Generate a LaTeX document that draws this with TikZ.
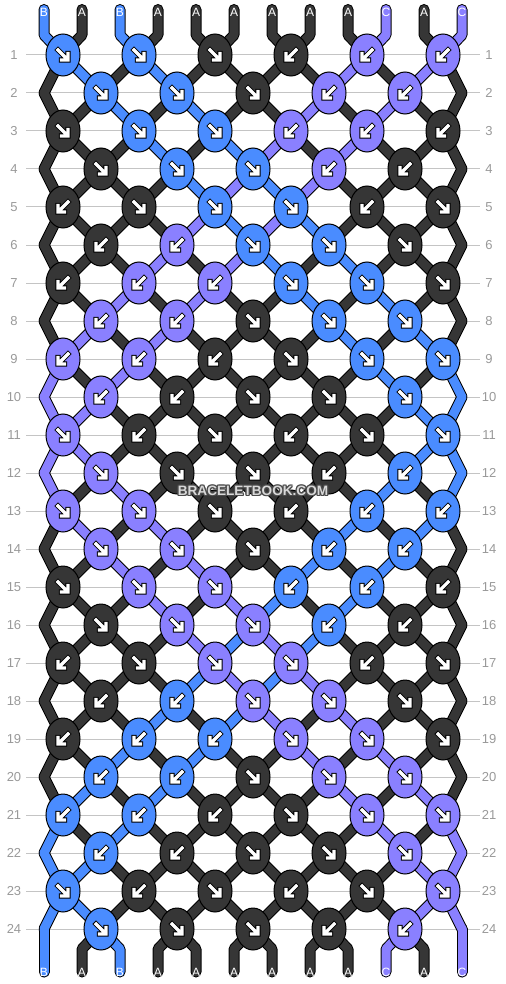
\documentclass[tikz,border=0pt]{standalone}
\usepackage{fontspec}
\setmainfont{Liberation Sans}
\usetikzlibrary{shapes.geometric}
\definecolor{colA}{HTML}{363636}
\definecolor{colB}{HTML}{4A8CFF}
\definecolor{colC}{HTML}{8A80FF}
\definecolor{rowgrey}{HTML}{C4C4C4}
\definecolor{numgrey}{HTML}{999999}
\definecolor{wmlight}{HTML}{D8D8D8}
\definecolor{wmdark}{HTML}{4A4A4A}

\begin{document}
\begin{tikzpicture}[
    x=0.5pt, y=-0.5pt,
    knot/.style = {ellipse, draw=black, line width=0.5pt,
                minimum width=17pt, minimum height=21pt, inner sep=0pt},
    thread out/.style = {draw=black, line width=5.5pt, line cap=round, line join=round},
    thread in/.style = {draw=#1, line width=4.5pt, line cap=round, line join=round},
    arrow out/.style = {draw=black, line width=2.6pt, line cap=rect},
    arrow in/.style = {draw=white, line width=1.6pt, line cap=rect},
    dir r/.style = {xscale=1},
    dir l/.style = {xscale=-1},
    rowline/.style = {draw=rowgrey, line width=0.5pt},
    rownum/.style = {text=numgrey, font=\fontsize{6.5}{7}\selectfont, inner sep=0pt},
    strname/.style = {text=white, font=\fontsize{6}{7}\selectfont, inner sep=0pt},
    wmark/.style = {font=\fontsize{6.8}{7}\bfseries\selectfont, inner sep=0pt}
                    ]
    \useasboundingbox (0,0) rectangle (506,984);
    % thread colours after each row (row 0 = top)
    \def\threadstates{
        0/{B,A,B,A,A,A,A,A,A,C,A,C},  1/{A,B,A,B,A,A,A,A,C,A,C,A},
        2/{A,A,B,A,B,A,A,C,A,C,A,A},  3/{A,A,A,B,A,B,C,A,C,A,A,A},
        4/{A,A,A,A,B,C,B,C,A,A,A,A},  5/{A,A,A,A,C,B,C,B,A,A,A,A},
        6/{A,A,A,C,A,C,B,A,B,A,A,A},  7/{A,A,C,A,C,A,A,B,A,B,A,A},
        8/{A,C,A,C,A,A,A,A,B,A,B,A},  9/{C,A,C,A,A,A,A,A,A,B,A,B},
        10/{C,C,A,A,A,A,A,A,A,A,B,B}, 11/{C,C,A,A,A,A,A,A,A,A,B,B},
        12/{C,A,C,A,A,A,A,A,A,B,A,B}, 13/{A,C,A,C,A,A,A,A,B,A,B,A},
        14/{A,A,C,A,C,A,A,B,A,B,A,A}, 15/{A,A,A,C,A,C,B,A,B,A,A,A},
        16/{A,A,A,A,C,B,C,B,A,A,A,A}, 17/{A,A,A,A,B,C,B,C,A,A,A,A},
        18/{A,A,A,B,A,B,C,A,C,A,A,A}, 19/{A,A,B,A,B,A,A,C,A,C,A,A},
        20/{A,B,A,B,A,A,A,A,C,A,C,A}, 21/{B,A,B,A,A,A,A,A,A,C,A,C},
        22/{B,B,A,A,A,A,A,A,A,A,C,C}, 23/{B,B,A,A,A,A,A,A,A,A,C,C},
        24/{B,A,B,A,A,A,A,A,A,C,A,C}}
    \def\toplabels{B,A,B,A,A,A,A,A,A,C,A,C}
    \def\botlabels{B,A,B,A,A,A,A,A,A,C,A,C}

    % row lines and numbers
    \foreach \rw in {1,...,24} {
        \pgfmathsetmacro\ky{55+38*(\rw-1)}
        \coordinate (gl-\rw) at (26,\ky);
        \coordinate (gr-\rw) at (480,\ky);
        \draw[rowline] (gl-\rw) -- (gr-\rw);
        \node[rownum] (ln-\rw) at (14,\ky) {\rw};
        \node[rownum] (rn-\rw) at (489,\ky) {\rw};
    }

    % where each thread passes in each row
    \foreach \rw in {1,...,24} {
        \pgfmathsetmacro\ty{55+38*(\rw-1)}
        \foreach \p in {1,...,12} {
            \ifodd\rw\relax
                \pgfmathsetmacro\tx{63+76*floor((\p-1)/2)}
            \else
                \pgfmathsetmacro\tx{101+76*floor((\p-2)/2)}
                \ifnum\p=1 \def\tx{44}\fi
                \ifnum\p=12 \def\tx{462}\fi
            \fi
            \coordinate (t-\rw-\p) at (\tx,\ty);
        }
    }
    \foreach \p in {1,...,12} {
        \pgfmathsetmacro\sx{44+38*(\p-1)}
        \coordinate (top-\p) at (\sx,9.5);
        \coordinate (tb-\p) at (\sx,35);
        \coordinate (bb-\p) at (\sx,949);
        \coordinate (bot-\p) at (\sx,972);
    }

    % threads: black outline first, colour on top
    \foreach \pass in {out,in} {
        \foreach \rw/\st in \threadstates {
            \foreach \tc [count=\p] in \st {
                \ifnum\rw=0
                    \draw[thread \pass=col\tc] (top-\p) -- (tb-\p) -- (t-1-\p);
                \else\ifnum\rw=24
                    \draw[thread \pass=col\tc] (t-24-\p) -- (bb-\p) -- (bot-\p);
                \else
                    \pgfmathtruncatemacro\nx{\rw+1}
                    \draw[thread \pass=col\tc] (t-\rw-\p) -- (t-\nx-\p);
                \fi\fi
            }
        }
    }

    % knots: direction / colour
    \foreach \rw/\knots in {
        1/{r/B,r/B,r/A,l/A,l/C,l/C},
        2/{r/B,r/B,r/A,l/C,l/C},
        3/{r/A,r/B,r/B,l/C,l/C,l/A},
        4/{r/A,r/B,r/B,l/C,l/A},
        5/{l/A,r/A,r/B,r/B,l/A,r/A},
        6/{l/A,l/C,r/B,r/B,r/A},
        7/{l/A,l/C,l/C,r/B,r/B,r/A},
        8/{l/C,l/C,r/A,r/B,r/B},
        9/{l/C,l/C,l/A,r/A,r/B,r/B},
        10/{l/C,l/A,r/A,r/A,r/B},
        11/{r/C,l/A,r/A,l/A,r/A,r/B},
        12/{r/C,r/A,r/A,l/A,l/B},
        13/{r/C,r/C,r/A,l/A,l/B,l/B},
        14/{r/C,r/C,r/A,l/B,l/B},
        15/{r/A,r/C,r/C,l/B,l/B,l/A},
        16/{r/A,r/C,r/C,l/B,l/A},
        17/{l/A,r/A,r/C,r/C,l/A,r/A},
        18/{l/A,l/B,r/C,r/C,r/A},
        19/{l/A,l/B,l/B,r/C,r/C,r/A},
        20/{l/B,l/B,r/A,r/C,r/C},
        21/{l/B,l/B,l/A,r/A,r/C,r/C},
        22/{l/B,l/A,r/A,r/A,r/C},
        23/{r/B,l/A,r/A,l/A,r/A,r/C},
        24/{r/B,r/A,r/A,l/A,l/C}} {
        \foreach \dir/\tc [count=\m] in \knots {
            \ifodd\rw\relax \def\kx0{63}\else \def\kx0{101}\fi
            \pgfmathsetmacro\kx{\kx0+76*(\m-1)}
            \pgfmathsetmacro\ky{55+38*(\rw-1)}
            \node[knot, fill=col\tc] (k-\rw-\m) at (\kx,\ky) {};
            \foreach \lay in {out,in}
                \draw[arrow \lay, shift={(\kx,\ky)}, dir \dir]
                    (-5,-5) -- (4,4) (5,-1.5) -- (5,5) -- (-1.5,5);
        }
    }

    % thread names
    \foreach \nm [count=\p] in \toplabels
        \node[strname] (lt-\p) at (44+38*\p-38,12.5) {\nm};
    \foreach \nm [count=\p] in \botlabels
        \node[strname] (lb-\p) at (44+38*\p-38,972) {\nm};

    % watermark
    \foreach \ox/\oy [count=\i] in {-1.2/0,1.2/0,0/-1.2,0/1.2,-1/-1,1/1,-1/1,1/-1}
        \node[wmark, text=wmdark, shift={(\ox,\oy)}] (wm-\i) at (253,491) {BRACELETBOOK.COM};
    \node[wmark, text=wmlight] (wm) at (253,491) {BRACELETBOOK.COM};
\end{tikzpicture}
\end{document}
